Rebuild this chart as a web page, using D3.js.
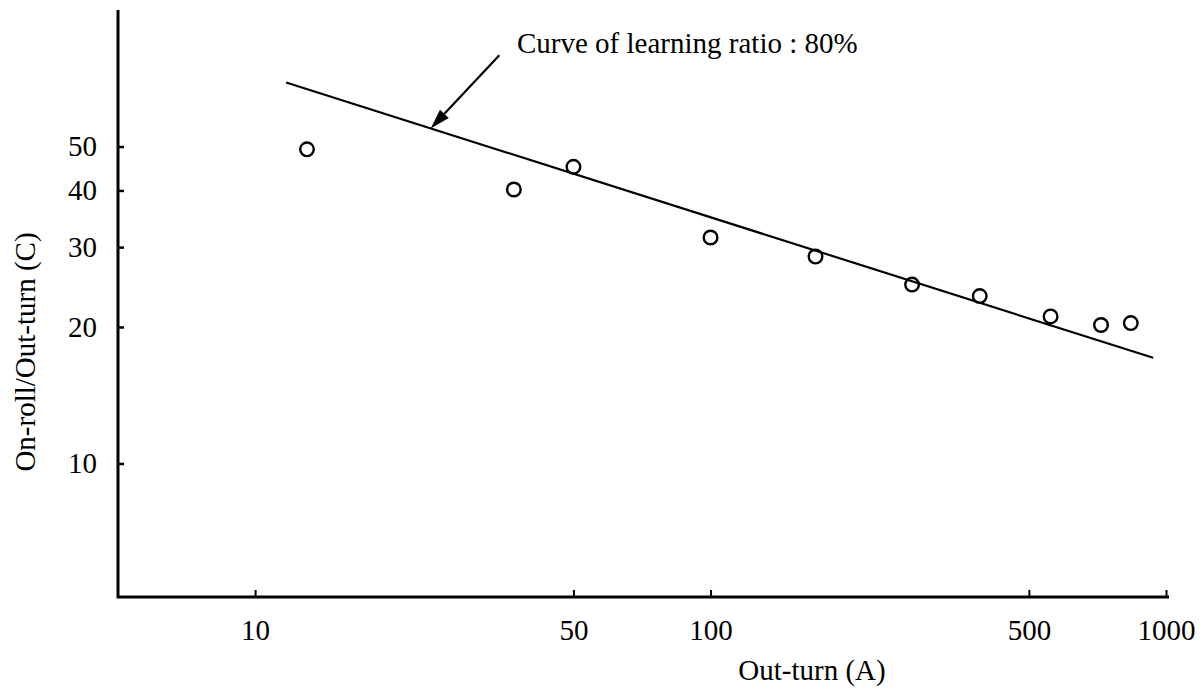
<!DOCTYPE html>
<html>
<head>
<meta charset="utf-8">
<script src="https://cdn.jsdelivr.net/npm/d3@7"></script>
<style>
  html, body { margin: 0; padding: 0; background: #fff; }
  svg { display: block; }
  text { font-family: "Liberation Serif", "Times New Roman", serif; fill: #000; }
</style>
</head>
<body>
<svg id="chart" width="1202" height="688"></svg>
<script>
// Observed points: out-turn (A) against on-roll/out-turn (C)
const outTurn = [13, 37, 50, 100, 170, 277, 390, 558, 720, 837];
const ratioC  = [49.3, 40.2, 45.1, 31.5, 28.6, 24.8, 23.4, 21.1, 20.2, 20.4];

// 80% learning curve, drawn between its two end points
const curveX = [11.7, 937];
const curveY = [69.2, 17.1];

// Axis ticks and labels
const xTicks = [10, 50, 100, 500, 1000];
const xTickLabels = ["10", "50", "100", "500", "1000"];
const yTicks = [10, 20, 30, 40, 50];
const yTickLabels = ["10", "20", "30", "40", "50"];

// Annotation: arrow tip sits on the curve
const noteText = "Curve of learning ratio : 80%";
const noteTip = [24.3, 54.8];

const fontSize = 29;
const svg = d3.select("#chart");

const x = d3.scaleLog().domain([5, 1000]).range([118, 1166]);
const y = d3.scaleLog().domain([5, 100]).range([600, 10]);

const axisY0 = 597;   // baseline of the horizontal axis
const axisTop = 10;

// Axis frame
svg.append("path")
  .attr("d", `M${x(5)},${axisTop} V${axisY0} H${x(1000) + 3}`)
  .attr("fill", "none")
  .attr("stroke", "#000")
  .attr("stroke-width", 3)
  .attr("stroke-linejoin", "miter");

// Bottom axis: ticks pointing inward
const gx = svg.append("g")
  .attr("transform", `translate(0,${axisY0})`)
  .call(d3.axisBottom(x)
    .tickValues(xTicks)
    .tickFormat((d, i) => xTickLabels[i])
    .tickSize(-7)
    .tickSizeOuter(0)
    .tickPadding(22));
gx.select(".domain").remove();
gx.selectAll(".tick line").attr("stroke", "#000").attr("stroke-width", 2);
gx.selectAll(".tick text")
  .attr("font-size", fontSize)
  .attr("fill", "#000");

// Left axis: ticks pointing inward
const gy = svg.append("g")
  .attr("transform", `translate(${x(5)},0)`)
  .call(d3.axisLeft(y)
    .tickValues(yTicks)
    .tickFormat((d, i) => yTickLabels[i])
    .tickSize(-6)
    .tickSizeOuter(0)
    .tickPadding(21));
gy.select(".domain").remove();
gy.selectAll(".tick line").attr("stroke", "#000").attr("stroke-width", 2.5);
gy.selectAll(".tick text")
  .attr("font-size", fontSize)
  .attr("fill", "#000");

// Axis titles
svg.append("text")
  .attr("x", 812)
  .attr("y", 680)
  .attr("text-anchor", "middle")
  .attr("font-size", fontSize)
  .text("Out-turn (A)");

svg.append("text")
  .attr("transform", "translate(25,352) rotate(-90)")
  .attr("text-anchor", "middle")
  .attr("dy", "0.35em")
  .attr("font-size", fontSize)
  .text("On-roll/Out-turn (C)");

// Learning curve
const curve = curveX.map((d, i) => [d, curveY[i]]);
svg.append("path")
  .datum(curve)
  .attr("d", d3.line().x(d => x(d[0])).y(d => y(d[1])))
  .attr("fill", "none")
  .attr("stroke", "#000")
  .attr("stroke-width", 2.2);

// Observed points as open circles
svg.append("g")
  .selectAll("circle")
  .data(outTurn.map((d, i) => [d, ratioC[i]]))
  .join("circle")
  .attr("cx", d => x(d[0]))
  .attr("cy", d => y(d[1]))
  .attr("r", 6.8)
  .attr("fill", "none")
  .attr("stroke", "#000")
  .attr("stroke-width", 2.4);

// Annotation arrow
const tipX = x(noteTip[0]), tipY = y(noteTip[1]);
const tailX = tipX + 68.6, tailY = tipY - 73.3;
const ang = Math.atan2(tailY - tipY, tailX - tipX);
const headLen = 20, headHalf = 6;
const bx = tipX + headLen * Math.cos(ang), by = tipY + headLen * Math.sin(ang);
const px = -Math.sin(ang) * headHalf, py = Math.cos(ang) * headHalf;

svg.append("line")
  .attr("x1", tailX).attr("y1", tailY)
  .attr("x2", bx).attr("y2", by)
  .attr("stroke", "#000")
  .attr("stroke-width", 2.2);

svg.append("path")
  .attr("d", `M${tipX},${tipY} L${bx + px},${by + py} L${bx - px},${by - py} Z`)
  .attr("fill", "#000");

svg.append("text")
  .attr("x", 517)
  .attr("y", 53)
  .attr("font-size", fontSize)
  .text(noteText);
</script>
</body>
</html>
